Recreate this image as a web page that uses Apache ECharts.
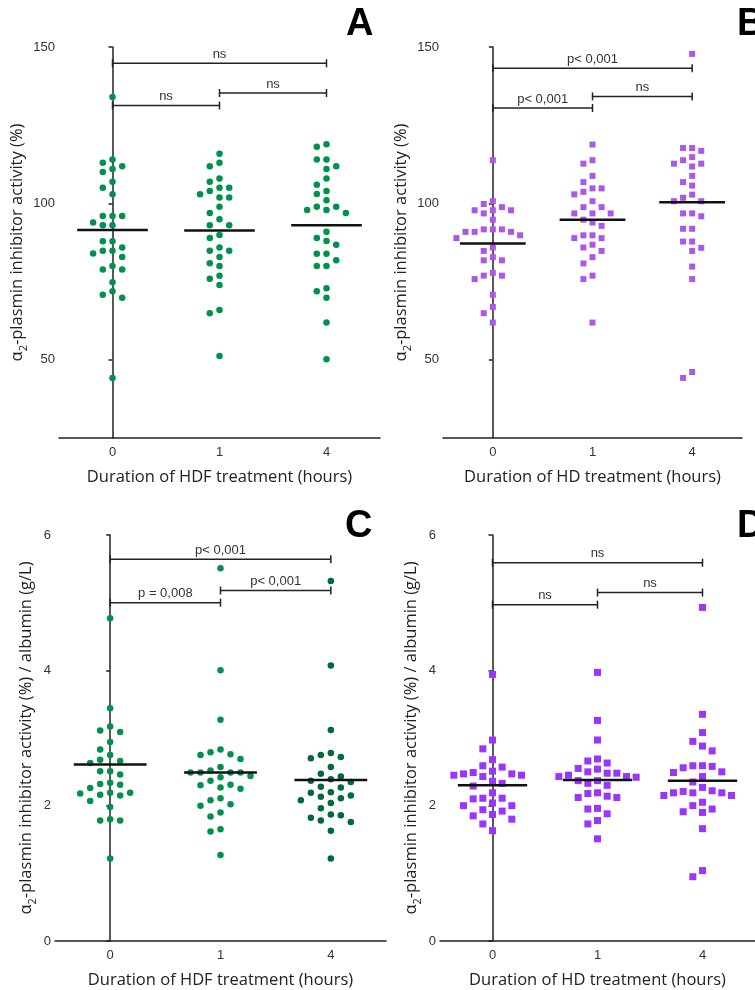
<!DOCTYPE html>
<html>
<head>
<meta charset="utf-8">
<script src="https://cdn.jsdelivr.net/npm/echarts@6/dist/echarts.min.js"></script>
<style>html,body{margin:0;padding:0;background:#fff}#c{width:755px;height:990px}</style>
</head>
<body>
<div id="c"></div>
<script>
// ---------- data ----------
const categories = ['0', '1', '4'];
const yTicksPct = [50, 100, 150];
const yTicksRatio = [0, 2, 4, 6];

const A0 = [134, 114, 111.9, 111, 113, 110, 105, 106.9, 102.9, 96, 93.9, 93, 93, 96, 96, 87.9, 87.9, 85.9, 84.9, 84, 84.9, 82.9, 78.9, 78.9, 80, 74.8, 70.8, 69.8, 71.9, 44.2];
const A1 = [115.9, 111.9, 113, 108, 106.9, 105, 105, 102.9, 101.9, 101.9, 104, 98.9, 96.9, 94.9, 93, 93, 89.9, 88.9, 85.9, 84.9, 84.9, 82.9, 80.9, 80, 76.9, 75.9, 73.9, 65.9, 64.9, 51.2];
const A4 = [118.1, 118.9, 114, 114, 111.9, 111, 108, 106, 104, 103, 101, 98.9, 97.9, 96.9, 97.9, 98.9, 90.9, 88.9, 88, 86.8, 83.9, 83.9, 81.8, 80, 80, 72.9, 71.9, 69.8, 61.9, 50.2];
const B0 = [113.8, 100.7, 99.8, 98.8, 97.8, 97.8, 97.8, 96.8, 94.8, 91.7, 91.7, 91.7, 90.9, 90.9, 90.9, 89.8, 88.9, 85.9, 84.8, 82.8, 81.8, 81.8, 77.8, 76.9, 75.8, 76.9, 70.8, 66.9, 64.9, 61.9];
const B1 = [118.8, 112.7, 113.8, 108.8, 106.8, 104.8, 102.9, 103.7, 104.8, 100.7, 98.8, 98.8, 96.8, 96.8, 96.8, 94.8, 93.9, 92.8, 89.8, 88.9, 88.9, 89.8, 86.8, 85.9, 84.8, 82.8, 80.8, 76.9, 75.8, 61.9];
const B4 = [147.8, 116.8, 117.7, 117.7, 114.8, 112.7, 111.8, 112.7, 113.8, 108.8, 105.7, 106.8, 102.8, 100.7, 100.7, 101.8, 96.8, 95.9, 96.8, 91.9, 91.9, 87.8, 87.8, 85.8, 84.8, 79.8, 75.8, 46.1, 44.2];
const C0 = [4.77, 3.44, 3.17, 3.09, 3.11, 2.94, 2.83, 2.75, 2.66, 2.68, 2.63, 2.51, 2.51, 2.46, 2.34, 2.31, 2.32, 2.26, 2.19, 2.16, 2.15, 2.18, 2.19, 2.07, 1.98, 1.78, 1.78, 1.80, 1.22];
const C1 = [5.51, 4.0, 3.27, 2.76, 2.83, 2.75, 2.79, 2.69, 2.57, 2.49, 2.49, 2.44, 2.42, 2.49, 2.49, 2.52, 2.37, 2.30, 2.25, 2.27, 2.31, 2.11, 2.02, 2.0, 2.08, 1.84, 1.90, 1.65, 1.62, 1.27];
const C4 = [5.32, 4.07, 3.12, 2.75, 2.72, 2.78, 2.70, 2.57, 2.43, 2.47, 2.37, 2.35, 2.39, 2.27, 2.28, 2.19, 2.20, 2.13, 2.08, 2.04, 2.11, 2.15, 1.96, 1.87, 1.82, 1.86, 1.76, 1.78, 1.63, 1.22];
const D0 = [3.94, 2.97, 2.84, 2.68, 2.57, 2.59, 2.51, 2.49, 2.47, 2.45, 2.43, 2.45, 2.47, 2.36, 2.33, 2.29, 2.19, 2.11, 2.10, 2.11, 2.04, 2.0, 2.0, 1.92, 1.94, 1.85, 1.87, 1.80, 1.73, 1.63];
const D1 = [3.97, 3.26, 2.97, 2.69, 2.63, 2.66, 2.54, 2.55, 2.50, 2.43, 2.48, 2.45, 2.48, 2.43, 2.42, 2.37, 2.37, 2.33, 2.30, 2.18, 2.12, 2.12, 2.14, 2.19, 1.96, 1.95, 1.88, 1.78, 1.73, 1.51];
const D4 = [4.93, 3.35, 3.08, 2.95, 2.88, 2.81, 2.59, 2.58, 2.56, 2.49, 2.59, 2.50, 2.43, 2.35, 2.27, 2.19, 2.19, 2.15, 2.21, 2.22, 2.15, 2.19, 2.05, 2.0, 1.95, 1.90, 1.91, 1.66, 1.04, 0.95];

const meansA = [91.5, 91.3, 93.0];
const meansB = [87.2, 94.8, 100.4];
const meansC = [2.61, 2.49, 2.38];
const meansD = [2.30, 2.38, 2.37];

// [from category, to category, y value]
const bracketsA = [[0, 2, 144.8], [0, 1, 131.3], [1, 2, 135.3]];
const bracketLabelsA = ['ns', 'ns', 'ns'];
const bracketsB = [[0, 2, 143.2], [0, 1, 130.5], [1, 2, 134.2]];
const bracketLabelsB = ['p< 0,001', 'p< 0,001', 'ns'];
const bracketsC = [[0, 2, 5.64], [0, 1, 5.0], [1, 2, 5.18]];
const bracketLabelsC = ['p< 0,001', 'p = 0,008', 'p< 0,001'];
const bracketsD = [[0, 2, 5.59], [0, 1, 4.97], [1, 2, 5.15]];
const bracketLabelsD = ['ns', 'ns', 'ns'];

// ---------- layout & style ----------
const SANS = '"Liberation Sans", Arial, sans-serif';
const TITLE = '"Open Sans", sans-serif';
const GREEN = '#00924a', DGREEN = '#006a3a', PURPLE_B = '#ab58e8', PURPLE_D = '#9a35fb';
const yNamePct = '{a|α}{s|2}{a|-plasmin inhibitor activity (%)}';
const yNameRatio = '{a|α}{s|2}{a|-plasmin inhibitor activity (%) / albumin (g/L)}';

const panels = [
  { letter: 'A', lx: 341, ly: 1, left: 59, top: 47, width: 321, height: 391, min: 25, max: 150, ticks: yTicksPct,
    groups: [A0, A1, A4], colors: [GREEN, GREEN, GREEN], symbol: 'circle', size: 6.5, step: 9.7, gap: 9, ygap: 24,
    means: meansA, br: bracketsA, brl: bracketLabelsA, xname: 'Duration of HDF treatment (hours)', yname: yNamePct },
  { letter: 'B', lx: 732, ly: 1, left: 443, top: 47, width: 299, height: 391, min: 25, max: 150, ticks: yTicksPct,
    groups: [B0, B1, B4], colors: [PURPLE_B, PURPLE_B, PURPLE_B], symbol: 'rect', size: 6, step: 9.1, gap: 9, ygap: 24,
    means: meansB, br: bracketsB, brl: bracketLabelsB, xname: 'Duration of HD treatment (hours)', yname: yNamePct },
  { letter: 'C', lx: 340, ly: 503, left: 55, top: 535, width: 331, height: 408, min: 0, max: 6, ticks: yTicksRatio,
    groups: [C0, C1, C4], colors: [GREEN, GREEN, DGREEN], symbol: 'circle', size: 6.5, step: 10, gap: 10, ygap: 18,
    means: meansC, br: bracketsC, brl: bracketLabelsC, xname: 'Duration of HDF treatment (hours)', yname: yNameRatio },
  { letter: 'D', lx: 732, ly: 503, left: 440, top: 535, width: 326, height: 408, min: 0, max: 6, ticks: yTicksRatio,
    groups: [D0, D1, D4], colors: [PURPLE_D, PURPLE_D, PURPLE_D], symbol: 'rect', size: 7, step: 10, gap: 10, ygap: 18,
    means: meansD, br: bracketsD, brl: bracketLabelsD, xname: 'Duration of HD treatment (hours)', yname: yNameRatio }
];

// simple beeswarm: columns of fixed step, no two points in a column closer than gap px
function swarm(values, cat, p) {
  const pxY = p.height / (p.max - p.min);
  const unitX = p.width / 3;
  const order = values.map((v, i) => i).sort((a, b) => values[b] - values[a]);
  const placed = [];
  const out = [];
  const cand = [0, -1, 1, -2, 2, -3, 3, -4, 4, -5, 5, -6, 6];
  for (const i of order) {
    const y = values[i] * pxY;
    let k = 0;
    for (const c of cand) {
      if (!placed.some(q => q.k === c && Math.abs(q.y - y) < p.gap)) { k = c; break; }
    }
    placed.push({ k, y });
    out.push([cat + k * p.step / unitX, values[i]]);
  }
  return out;
}

const grid = [], xAxis = [], yAxis = [], series = [], title = [];
const axisColor = '#222';
panels.forEach((p, j) => {
  grid.push({ left: p.left, top: p.top, width: p.width, height: p.height });
  title.push({ text: p.letter, left: p.lx, top: p.ly, textStyle: { fontSize: 38, fontWeight: 'bold', fontFamily: SANS, color: '#000' } });
  xAxis.push({
    type: 'category', gridIndex: j, data: categories, boundaryGap: true,
    axisLine: { lineStyle: { color: axisColor, width: 1.5 } },
    axisTick: { alignWithLabel: true, length: 4, lineStyle: { color: axisColor, width: 1.5 } },
    axisLabel: { fontSize: 13, color: '#333', margin: 8, fontFamily: SANS },
    name: p.xname, nameLocation: 'middle', nameGap: 31,
    nameTextStyle: { fontSize: 16.5, fontFamily: TITLE, color: '#222' }
  });
  xAxis.push({ type: 'value', gridIndex: j, min: -0.5, max: 2.5, show: false });
  yAxis.push({
    type: 'value', gridIndex: j, min: p.min, max: p.max,
    axisLine: { show: true, lineStyle: { color: axisColor, width: 1.5 } },
    axisTick: { show: true, length: 4, customValues: p.ticks, lineStyle: { color: axisColor, width: 1.5 } },
    axisLabel: { customValues: p.ticks, fontSize: 13, color: '#333', margin: 4, fontFamily: SANS },
    splitLine: { show: false },
    name: p.yname, nameLocation: 'middle', nameRotate: 90, nameGap: p.ygap,
    nameTextStyle: {
      color: '#222',
      rich: {
        a: { fontSize: 16.5, fontFamily: TITLE, color: '#222', lineHeight: 22 },
        s: { fontSize: 11, fontFamily: TITLE, color: '#222', lineHeight: 11, verticalAlign: 'top', padding: [12, 0, 0, 0] }
      }
    }
  });
  const xi = j * 2 + 1;
  p.groups.forEach((vals, g) => {
    series.push({
      type: 'scatter', xAxisIndex: xi, yAxisIndex: j, data: swarm(vals, g, p),
      symbol: p.symbol, symbolSize: p.size, itemStyle: { color: p.colors[g], opacity: 1 },
      silent: true, z: 2
    });
  });
  series.push({
    type: 'custom', xAxisIndex: xi, yAxisIndex: j, z: 5, silent: true,
    data: p.means.map((m, i) => [i, m]),
    encode: { x: 0, y: 1 },
    renderItem: (params, api) => {
      const a = api.coord([api.value(0) - 0.33, api.value(1)]);
      const b = api.coord([api.value(0) + 0.33, api.value(1)]);
      return { type: 'line', shape: { x1: a[0], y1: a[1], x2: b[0], y2: b[1] }, style: { stroke: '#111', lineWidth: 2.5 } };
    }
  });
  series.push({
    type: 'custom', xAxisIndex: xi, yAxisIndex: j, z: 5, silent: true, clip: false,
    data: p.br,
    encode: { x: [0, 1], y: 2 },
    renderItem: (params, api) => {
      const a = api.coord([api.value(0), api.value(2)]);
      const b = api.coord([api.value(1), api.value(2)]);
      const t = 4, st = { stroke: '#222', lineWidth: 1.5 };
      return { type: 'group', children: [
        { type: 'line', shape: { x1: a[0], y1: a[1], x2: b[0], y2: b[1] }, style: st },
        { type: 'line', shape: { x1: a[0], y1: a[1] - t, x2: a[0], y2: a[1] + t }, style: st },
        { type: 'line', shape: { x1: b[0], y1: b[1] - t, x2: b[0], y2: b[1] + t }, style: st },
        { type: 'text', x: (a[0] + b[0]) / 2, y: a[1] - 9,
          style: { text: p.brl[params.dataIndex], align: 'center', verticalAlign: 'middle', font: '13px ' + SANS, fill: '#333' } }
      ] };
    }
  });
});

const chart = echarts.init(document.getElementById('c'), null, { renderer: 'canvas' });
chart.setOption({ animation: false, backgroundColor: '#fff', title, grid, xAxis, yAxis, series });
</script>
</body>
</html>
